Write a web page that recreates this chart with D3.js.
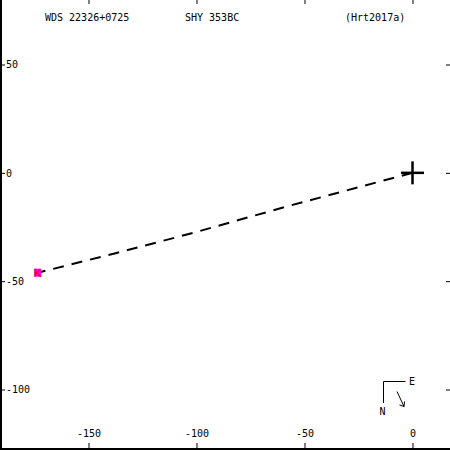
<!DOCTYPE html>
<html>
<head>
<meta charset="utf-8">
<script src="https://cdn.jsdelivr.net/npm/d3@7"></script>
<style>
html,body{margin:0;padding:0;background:#fff;}
svg{display:block;}
text{font-family:"DejaVu Sans Mono","Liberation Mono",monospace;fill:#000;}
</style>
</head>
<body>
<script>
// ---- data ----
const titleLeft = "WDS 22326+0725";
const titleMid = "SHY 353BC";
const titleRight = "(Hrt2017a)";
const xTicks = [-150, -100, -50, 0];
const yTicks = [50, 0, -50, -100];
// orbit arc (dashed), in arcsec*1000 offsets (E-W, N-S)
const orbitX = [0, -57, -101.5, -137, -173.5];
const orbitY = [0, -15.2, -27.7, -37, -46.1];
// measured point
const obsX = [-173.5];
const obsY = [-46.1];

const W = 450, H = 450;
const svg = d3.select("body").append("svg").attr("width", W).attr("height", H);

const x = d3.scaleLinear().domain([-150, 0]).range([88.5, 412.5]);
const y = d3.scaleLinear().domain([50, -100]).range([64.5, 389.5]);

// frame lines (left and bottom)
svg.append("line").attr("x1", 1).attr("x2", 1).attr("y1", 0).attr("y2", H)
  .attr("stroke", "#000").attr("stroke-width", 2);
svg.append("line").attr("x1", 0).attr("x2", W).attr("y1", 449).attr("y2", 449)
  .attr("stroke", "#000").attr("stroke-width", 2);

function styleAxis(g) {
  g.select(".domain").remove();
  g.selectAll(".tick line").attr("stroke", "#000").attr("stroke-width", 1);
  g.selectAll(".tick text").style("font-family", "'DejaVu Sans Mono', monospace").attr("font-size", 10).attr("fill", "#000");
}

// left axis with labels
svg.append("g").attr("transform", "translate(0,0)")
  .call(d3.axisRight(y).tickValues(yTicks).tickSize(5).tickPadding(1).tickFormat(d => String(d)))
  .call(styleAxis);
// bottom axis with labels (labels above)
svg.append("g").attr("transform", "translate(0,448)")
  .call(d3.axisTop(x).tickValues(xTicks).tickSize(5).tickPadding(6).tickFormat(d => String(d)))
  .call(styleAxis);
// top ticks
svg.append("g").attr("transform", "translate(0,0)")
  .call(d3.axisBottom(x).tickValues(xTicks).tickSize(4).tickFormat(""))
  .call(styleAxis);
// right ticks
svg.append("g").attr("transform", "translate(450,0)")
  .call(d3.axisLeft(y).tickValues(yTicks).tickSize(4).tickFormat(""))
  .call(styleAxis);

// titles
svg.append("text").attr("x", 45).attr("y", 21).attr("font-size", 10).text(titleLeft);
svg.append("text").attr("x", 185).attr("y", 21).attr("font-size", 10).text(titleMid);
svg.append("text").attr("x", 345).attr("y", 21).attr("font-size", 10).text(titleRight);

// orbit dashed line
const pts = orbitX.map((v, i) => [v, orbitY[i]]);
svg.append("path").datum(pts)
  .attr("d", d3.line().x(d => x(d[0])).y(d => y(d[1])))
  .attr("fill", "none").attr("stroke", "#000").attr("stroke-width", 2)
  .attr("stroke-dasharray", "11,8");

// primary star cross
const cx = x(0), cy = y(0);
svg.append("line").attr("x1", cx - 11.5).attr("x2", cx + 11.5).attr("y1", cy).attr("y2", cy)
  .attr("stroke", "#000").attr("stroke-width", 2.5);
svg.append("line").attr("x1", cx).attr("x2", cx).attr("y1", cy - 11.5).attr("y2", cy + 11.5)
  .attr("stroke", "#000").attr("stroke-width", 2.5);

// observation marker
obsX.forEach((v, i) => {
  const px = x(v), py = y(obsY[i]);
  svg.append("rect").attr("x", px - 3.5).attr("y", py - 4).attr("width", 7).attr("height", 8)
    .attr("fill", "#ff00ff");
  svg.append("path").attr("d", `M${px-2.5},${py-4}V${py+4}M${px+2.5},${py-3.5}L${px-1.5},${py}L${px+3},${py+4}`)
    .attr("stroke", "#ff0000").attr("stroke-width", 1.5).attr("fill", "none");
});

// compass
svg.append("path").attr("d", "M405.5,381.5H383.5V403")
  .attr("fill", "none").attr("stroke", "#000").attr("stroke-width", 1);
svg.append("text").attr("x", 409).attr("y", 385).attr("font-size", 10).text("E");
svg.append("text").attr("x", 379.5).attr("y", 414.5).attr("font-size", 10).text("N");
svg.append("path").attr("d", "M397,391.5L404,406.5M404,406.5L399.5,405M404,406.5L404.5,401.5")
  .attr("fill", "none").attr("stroke", "#000").attr("stroke-width", 1);
</script>
</body>
</html>
